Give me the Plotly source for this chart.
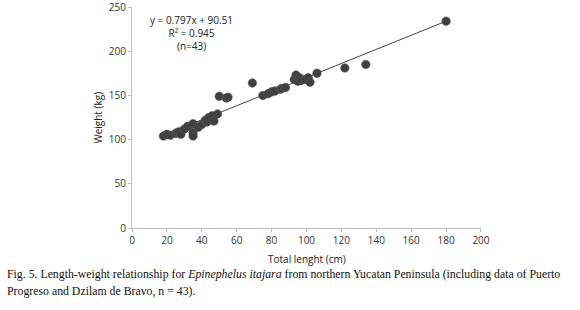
import plotly.graph_objects as go

# Data
length_cm = [18, 20, 22, 25, 26, 27, 28, 30, 32, 35, 35, 35, 38, 40, 42, 43, 44, 46, 47, 49,
             50, 54, 55, 69, 75, 78, 80, 82, 85, 86, 88, 93, 94, 95, 96, 97, 99, 101, 102, 106,
             122, 134, 180]
weight_kg = [104, 106, 105, 107, 108, 109, 106, 112, 115, 118, 108, 104, 114, 117, 122, 120, 125, 127, 121, 129,
             149, 147, 148, 164, 150, 152, 154, 155, 157, 158, 159, 168, 173, 166, 170, 167, 168, 170, 165, 175,
             181, 185, 234]
slope = 0.797
intercept = 90.51
fit_x = [18, 180]
fit_y = [slope * v + intercept for v in fit_x]

x_ticks = [0, 20, 40, 60, 80, 100, 120, 140, 160, 180, 200]
y_ticks = [0, 50, 100, 150, 200, 250]

fig = go.Figure()
fig.add_trace(go.Scatter(x=length_cm, y=weight_kg, mode="markers",
                         marker=dict(size=8.5, color="#3f3f3f", line=dict(width=0.6, color="#5a5a5a")),
                         showlegend=False, cliponaxis=False))
fig.add_trace(go.Scatter(x=fit_x, y=fit_y, mode="lines",
                         line=dict(color="#444444", width=1), showlegend=False))

axis_common = dict(showline=True, linecolor="#bdbdbd", linewidth=1, ticks="outside",
                   tickcolor="#bdbdbd", ticklen=3, showgrid=False, zeroline=False,
                   ticklabeloverflow="allow",
                   tickfont=dict(family="Open Sans, sans-serif", size=10, color="#333333"))
fig.update_xaxes(range=[0, 200.01], tickvals=x_ticks, automargin=False, **axis_common)
fig.update_yaxes(range=[0, 250.01], tickvals=y_ticks, automargin=False, **axis_common)

fig.update_layout(
    width=580, height=310,
    margin=dict(l=132, r=99, t=7, b=82, autoexpand=False),
    plot_bgcolor="white", paper_bgcolor="white",
    font=dict(family="Open Sans, sans-serif", size=10, color="#333333"),
)

fig.add_annotation(x=34, y=245.5, xref="x", yref="y", showarrow=False, xanchor="center",
                   text="y = 0.797x + 90.51<br>R² = 0.945<br>(n=43)",
                   font=dict(size=10, color="#222222"), align="center", yanchor="top")
fig.add_annotation(x=-0.1, y=0.5, xref="paper", yref="paper", showarrow=False,
                   xanchor="center", yanchor="middle",
                   text="Weight (kg)", textangle=-90, font=dict(size=10, color="#222222"))
fig.add_annotation(x=0.5, y=-0.14, xref="paper", yref="paper", showarrow=False,
                   xanchor="center", yanchor="middle",
                   text="Total lenght (cm)", font=dict(size=10, color="#222222"))

# Caption (paper coordinates below the axes)
caption_font = dict(family="Liberation Serif, Times New Roman, serif", size=11.8, color="#111111")
fig.add_annotation(x=-0.364, y=-0.208, xref="paper", yref="paper", xanchor="left", yanchor="middle",
                   showarrow=False, align="left",
                   text="Fig. 5. Length-weight relationship for <i>Epinephelus itajara</i> from northern Yucatan Peninsula (including data of Puerto",
                   font=caption_font)
fig.add_annotation(x=-0.364, y=-0.283, xref="paper", yref="paper", xanchor="left", yanchor="middle",
                   showarrow=False, align="left",
                   text="Progreso and Dzilam de Bravo, n = 43).",
                   font=caption_font)

fig.write_html("out.html", config={"displayModeBar": False},
               post_script="document.body.style.margin='0px';")
